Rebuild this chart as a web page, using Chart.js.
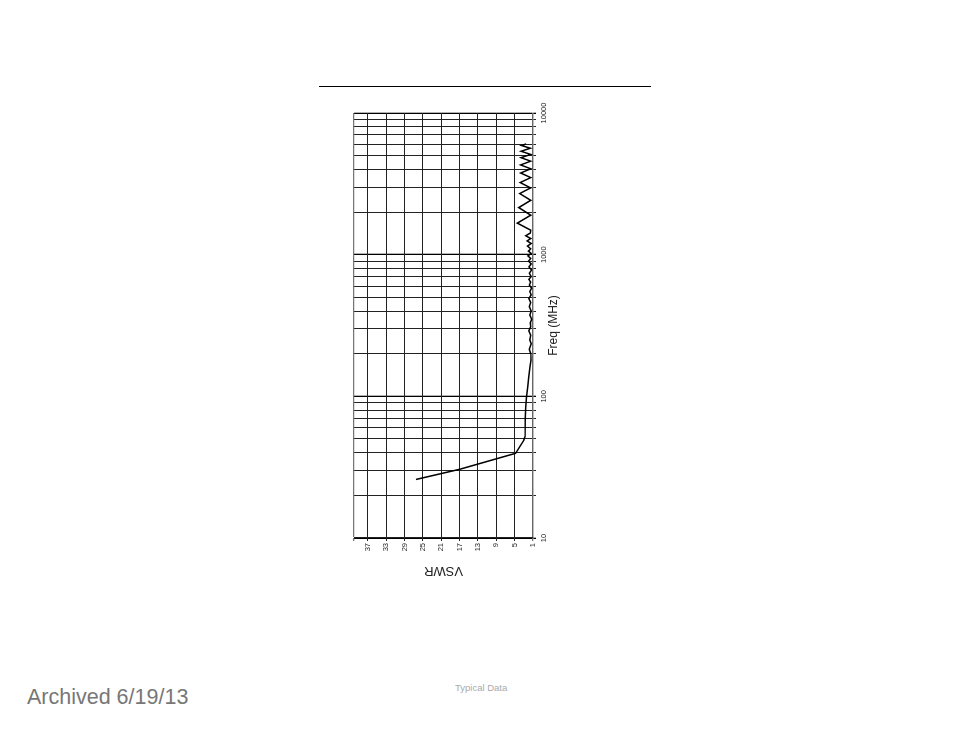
<!DOCTYPE html>
<html><head><meta charset="utf-8">
<script src="https://cdn.jsdelivr.net/npm/chart.js@4.4.1/dist/chart.umd.min.js"></script>
<style>
html,body{margin:0;padding:0;background:#fff;width:954px;height:738px;overflow:hidden;font-family:"Liberation Sans",Arial,sans-serif;}
#rule{position:absolute;left:319px;top:86px;width:332px;height:1px;background:#000;}
#wrap{position:absolute;left:340px;top:585px;width:495px;height:230px;transform-origin:0 0;transform:rotate(-90deg);}
#archived{position:absolute;left:27px;top:687px;font-size:21.5px;line-height:1;color:#777;white-space:nowrap;}
#typical{position:absolute;left:455px;top:683px;font-size:9.5px;line-height:1;color:#aaa;white-space:nowrap;}
</style></head><body>
<div id="rule"></div>
<div id="wrap"><canvas id="c"></canvas></div>
<div id="typical">Typical Data</div>
<div id="archived">Archived 6/19/13</div>
<script>
const freqMHz = [25.9, 30.6, 39.6, 49, 52, 70, 84.5, 99, 117, 137, 162, 180, 200, 215, 235, 250, 270, 290, 310, 330, 350, 375, 400, 430, 460, 490, 520, 550, 580, 610, 640, 670, 700, 740, 780, 820, 860, 900, 940, 980, 1020, 1060, 1100, 1150, 1200, 1250, 1300, 1360, 1420, 1490, 1670, 1900, 2150, 2420, 2700, 2960, 3230, 3500, 3770, 4040, 4300, 4570, 4840, 5100, 5370, 5640, 5900, 6050];
const vswr = [26.5, 16.9, 4.8, 3.0, 2.75, 2.7, 2.6, 2.4, 2.15, 1.95, 1.65, 1.45, 1.5, 1.8, 1.4, 1.7, 1.5, 1.9, 1.5, 1.6, 1.3, 1.7, 1.4, 1.8, 1.5, 1.9, 1.4, 1.7, 1.3, 1.8, 1.5, 1.9, 1.4, 1.8, 1.3, 1.9, 1.4, 2.0, 1.5, 2.1, 1.4, 2.0, 1.5, 2.2, 1.4, 2.3, 1.5, 2.6, 1.6, 1.5, 4.4, 1.5, 4.1, 1.5, 3.9, 1.5, 3.8, 1.5, 3.7, 1.5, 3.7, 1.5, 3.6, 1.5, 3.6, 1.6, 3.5, 2.5];
const freqGridTicks = [10,20,30,40,50,60,70,80,90,100,200,300,400,500,600,700,800,900,1000,2000,3000,4000,5000,6000,7000,8000,9000,10000];
const freqTickLabels = [10,100,1000,10000];
const vswrTicks = [1,5,9,13,17,21,25,29,33,37];
const vswrMin = 1, vswrMax = 40;
const freqMin = 10, freqMax = 10000;

const FONT = '"Liberation Sans", Arial, sans-serif';
new Chart(document.getElementById('c'), {
  type: 'line',
  data: { datasets: [{
    data: freqMHz.map((f, i) => ({x: f, y: vswr[i]})),
    borderColor: '#000', borderWidth: 1.5, pointRadius: 0, tension: 0, fill: false
  }]},
  options: {
    responsive: true, maintainAspectRatio: false, animation: false,
    layout: { padding: { left: 0, right: 23, top: 14, bottom: 0 } },
    plugins: { legend: { display: false }, tooltip: { enabled: false } },
    scales: {
      x: {
        type: 'logarithmic', min: freqMin, max: freqMax,
        afterBuildTicks: s => { s.ticks = freqGridTicks.map(v => ({value: v})); },
        afterFit: s => { s.height = 37; },
        ticks: { autoSkip: false, maxRotation: 0, minRotation: 0, padding: 3, color: '#222',
          font: { size: 7.5, family: FONT },
          callback: v => freqTickLabels.includes(v) ? String(v) : '' },
        grid: { color: c => freqTickLabels.includes(c.tick && c.tick.value) ? '#000' : '#222', lineWidth: c => freqTickLabels.includes(c.tick && c.tick.value) ? 1.3 : 1, tickLength: 3 },
        border: { color: '#666', width: 1.3 },
        title: { display: true, text: 'Freq (MHz)', color: '#222', font: { size: 12, family: FONT }, padding: { top: 0, bottom: 9 } }
      },
      y: {
        type: 'linear', min: vswrMin, max: vswrMax,
        afterBuildTicks: s => { s.ticks = vswrTicks.concat([vswrMax]).map(v => ({value: v})); },
        afterFit: s => { s.width = 47; },
        ticks: { autoSkip: false, padding: 2, color: '#222', font: { size: 7.5, family: FONT },
          callback: v => vswrTicks.includes(v) ? String(v) : '' },
        grid: { color: c => (c.tick && (c.tick.value === vswrMax || c.tick.value === vswrMin)) ? '#777' : '#222', lineWidth: c => (c.tick && (c.tick.value === vswrMax || c.tick.value === vswrMin)) ? 1.3 : 1, tickLength: 3 },
        border: { color: '#222', width: 1 },
        title: { display: true, text: 'VSWR', color: '#222', font: { size: 13, family: FONT }, padding: { top: 6.7, bottom: 0 } }
      }
    }
  }
});
</script>
</body></html>
